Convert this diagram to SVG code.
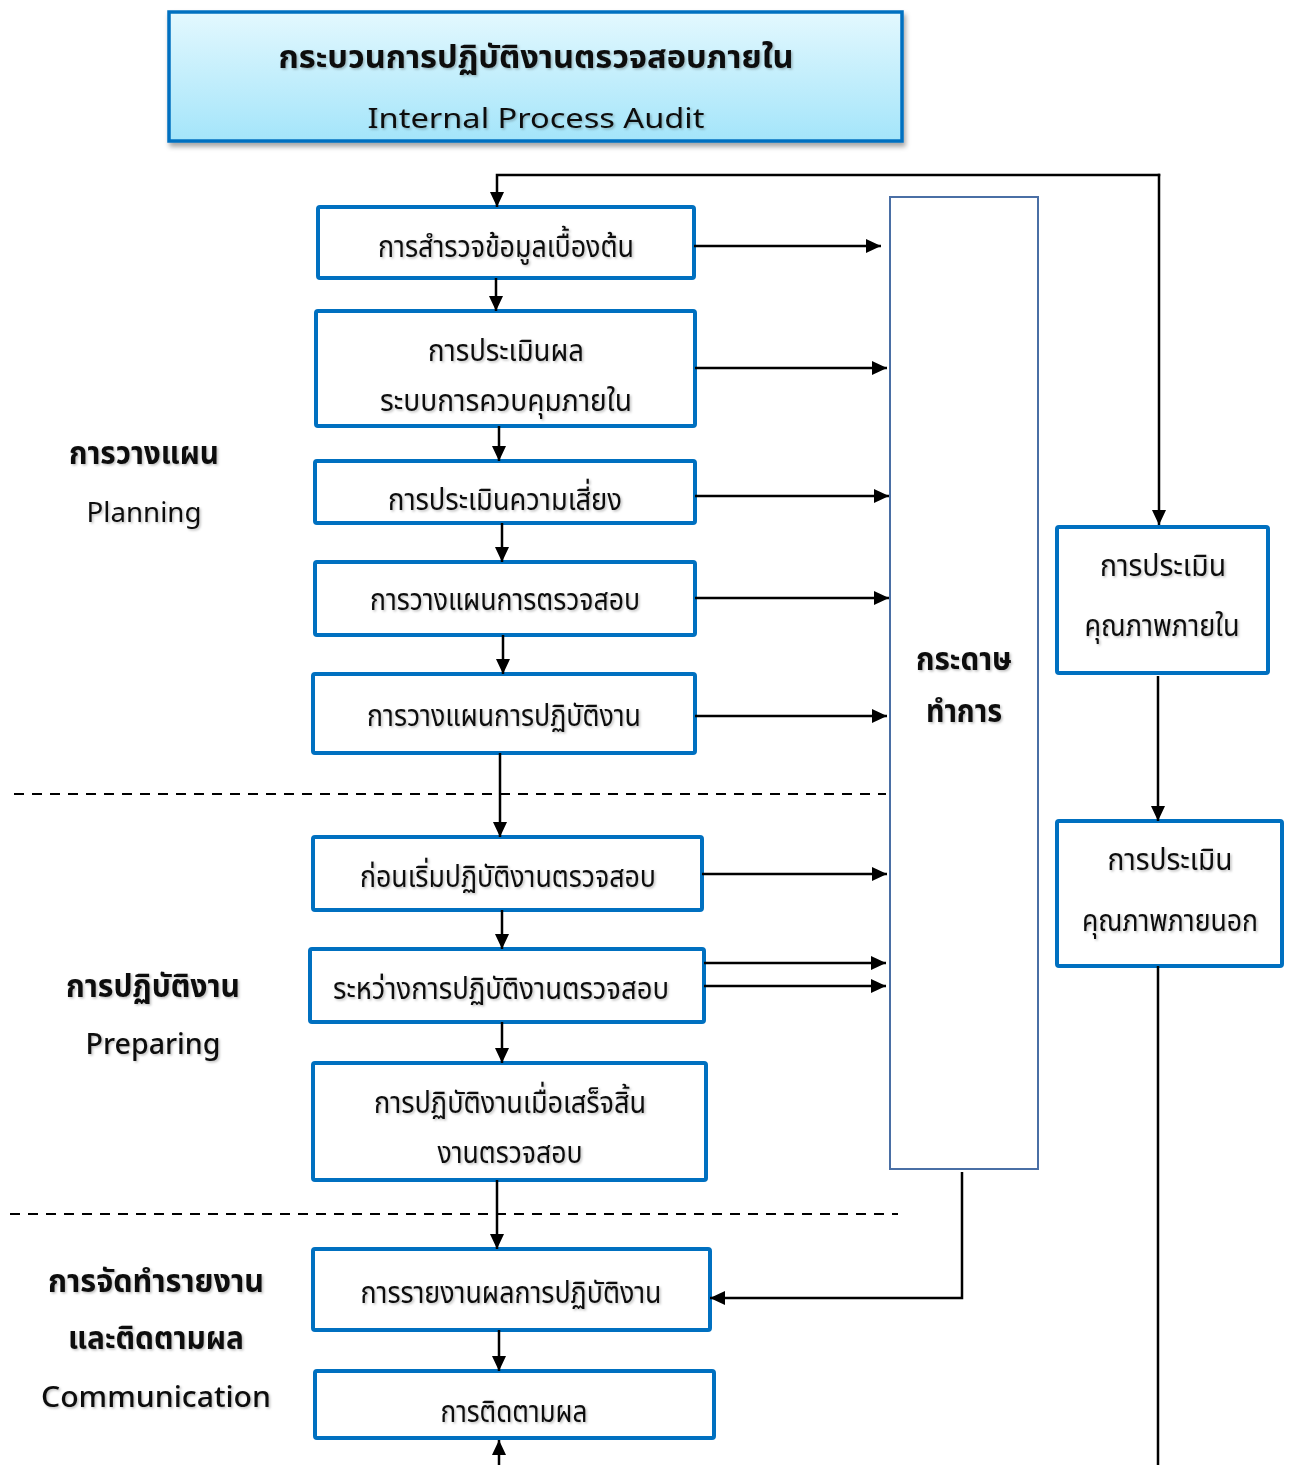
<svg xmlns="http://www.w3.org/2000/svg" width="1289" height="1465" viewBox="0 0 1289 1465">
<defs>
<linearGradient id="tg" x1="0" y1="0" x2="0" y2="1">
<stop offset="0" stop-color="#E3F8FE"/>
<stop offset="1" stop-color="#A4E5FA"/>
</linearGradient>
<filter id="bs" x="-5%" y="-10%" width="110%" height="130%">
<feDropShadow dx="2" dy="4" stdDeviation="2.5" flood-color="#000" flood-opacity="0.35"/>
</filter>
<filter id="ts" x="-5%" y="-20%" width="110%" height="150%">
<feDropShadow dx="1.5" dy="1.5" stdDeviation="1" flood-color="#000" flood-opacity="0.25"/>
</filter>
<marker id="ah" markerUnits="userSpaceOnUse" markerWidth="16" markerHeight="14" refX="15" refY="7" orient="auto">
<path d="M0,0 L15,7 L0,14 Z" fill="#000"/>
</marker>
</defs>
<style>
.box{fill:#fff;stroke:#0070C0;stroke-width:4}
.t{font-family:"Noto Sans Thai","Noto Sans","Liberation Sans",sans-serif;font-size:31px;fill:#111;text-anchor:middle;filter:url(#ts)}
.b{font-weight:bold}
.e{font-family:"Noto Sans","Liberation Sans",sans-serif;font-size:28px;fill:#111;text-anchor:middle;filter:url(#ts)}
.c{fill:none;stroke:#000;stroke-width:2.5}
.a{marker-end:url(#ah)}
.d{fill:none;stroke:#000;stroke-width:2;stroke-dasharray:10 8}
</style>
<g id="title">
<rect x="169" y="12" width="733" height="129" fill="url(#tg)" stroke="#0070C0" stroke-width="3.5" filter="url(#bs)"/>
<text class="t b" x="536" y="68" font-size="35" textLength="515" lengthAdjust="spacingAndGlyphs">กระบวนการปฏิบัติงานตรวจสอบภายใน</text>
<text class="e" x="536" y="128" font-size="29" textLength="337" lengthAdjust="spacingAndGlyphs">Internal Process Audit</text>
</g>
<g id="label-planning">
<text class="t b" x="144" y="464" font-size="33" textLength="150" lengthAdjust="spacingAndGlyphs">การวางแผน</text>
<text class="e" x="144" y="522" textLength="115" lengthAdjust="spacingAndGlyphs">Planning</text>
</g>
<g id="label-preparing">
<text class="t b" x="153" y="997" font-size="33" textLength="174" lengthAdjust="spacingAndGlyphs">การปฏิบัติงาน</text>
<text class="e" x="153" y="1054" font-weight="500" textLength="135" lengthAdjust="spacingAndGlyphs">Preparing</text>
</g>
<g id="label-communication">
<text class="t b" x="156" y="1292" font-size="33" textLength="216" lengthAdjust="spacingAndGlyphs">การจัดทำรายงาน</text>
<text class="t b" x="156" y="1349" font-size="33" textLength="176" lengthAdjust="spacingAndGlyphs">และติดตามผล</text>
<text class="e" x="156" y="1407" font-weight="500" textLength="230" lengthAdjust="spacingAndGlyphs">Communication</text>
</g>
<g id="n1">
<rect class="box" x="318" y="207" width="376" height="71" rx="2"/>
<text class="t" x="506" y="257" textLength="256" lengthAdjust="spacingAndGlyphs">การสำรวจข้อมูลเบื้องต้น</text>
</g>
<g id="n2">
<rect class="box" x="316" y="311" width="379" height="115" rx="2"/>
<text class="t" x="506" y="361" textLength="156" lengthAdjust="spacingAndGlyphs">การประเมินผล</text>
<text class="t" x="506" y="411" textLength="252" lengthAdjust="spacingAndGlyphs">ระบบการควบคุมภายใน</text>
</g>
<g id="n3">
<rect class="box" x="315" y="461" width="380" height="62" rx="2"/>
<text class="t" x="505" y="510" textLength="234" lengthAdjust="spacingAndGlyphs">การประเมินความเสี่ยง</text>
</g>
<g id="n4">
<rect class="box" x="315" y="562" width="380" height="73" rx="2"/>
<text class="t" x="505" y="610" textLength="270" lengthAdjust="spacingAndGlyphs">การวางแผนการตรวจสอบ</text>
</g>
<g id="n5">
<rect class="box" x="313" y="674" width="382" height="79" rx="2"/>
<text class="t" x="504" y="726" textLength="274" lengthAdjust="spacingAndGlyphs">การวางแผนการปฏิบัติงาน</text>
</g>
<g id="n6">
<rect class="box" x="313" y="837" width="389" height="73" rx="2"/>
<text class="t" x="508" y="887" textLength="296" lengthAdjust="spacingAndGlyphs">ก่อนเริ่มปฏิบัติงานตรวจสอบ</text>
</g>
<g id="n7">
<rect class="box" x="310" y="949" width="394" height="73" rx="2"/>
<text class="t" x="501" y="999" textLength="336" lengthAdjust="spacingAndGlyphs">ระหว่างการปฏิบัติงานตรวจสอบ</text>
</g>
<g id="n8">
<rect class="box" x="313" y="1063" width="393" height="117" rx="2"/>
<text class="t" x="510" y="1113" textLength="272" lengthAdjust="spacingAndGlyphs">การปฏิบัติงานเมื่อเสร็จสิ้น</text>
<text class="t" x="510" y="1163" textLength="145" lengthAdjust="spacingAndGlyphs">งานตรวจสอบ</text>
</g>
<g id="n9">
<rect class="box" x="313" y="1249" width="397" height="81" rx="2"/>
<text class="t" x="511" y="1303" textLength="301" lengthAdjust="spacingAndGlyphs">การรายงานผลการปฏิบัติงาน</text>
</g>
<g id="n10">
<rect class="box" x="315" y="1371" width="399" height="67" rx="2"/>
<text class="t" x="514" y="1422" textLength="147" lengthAdjust="spacingAndGlyphs">การติดตามผล</text>
</g>
<g id="working-paper">
<rect x="890" y="197" width="148" height="972" fill="#fff" stroke="#4A6FA5" stroke-width="2"/>
<text class="t b" x="964" y="670" font-size="32" textLength="96" lengthAdjust="spacingAndGlyphs">กระดาษ</text>
<text class="t b" x="964" y="722" font-size="32" textLength="76" lengthAdjust="spacingAndGlyphs">ทำการ</text>
</g>
<g id="qa-internal">
<rect class="box" x="1057" y="527" width="211" height="146" rx="2"/>
<text class="t" x="1163" y="576" textLength="126" lengthAdjust="spacingAndGlyphs">การประเมิน</text>
<text class="t" x="1162" y="636" textLength="155" lengthAdjust="spacingAndGlyphs">คุณภาพภายใน</text>
</g>
<g id="qa-external">
<rect class="box" x="1057" y="821" width="225" height="145" rx="2"/>
<text class="t" x="1170" y="870" textLength="125" lengthAdjust="spacingAndGlyphs">การประเมิน</text>
<text class="t" x="1170" y="931" textLength="176" lengthAdjust="spacingAndGlyphs">คุณภาพภายนอก</text>
</g>
<g id="connectors">
<line class="d" x1="14" y1="794" x2="886" y2="794"/>
<line class="d" x1="10" y1="1214" x2="898" y2="1214"/>
<path class="c a" d="M1160.25,175 H497 V207"/>
<path class="c a" d="M1159,173.75 V525"/>
<path class="c a" d="M1158,676 V821"/>
<path class="c" d="M1158,966 V1465"/>
<path class="c a" d="M499,1465 V1440"/>
<path class="c a" d="M496,278 V311"/>
<path class="c a" d="M499,426 V461"/>
<path class="c a" d="M502,523 V562"/>
<path class="c a" d="M503,635 V674"/>
<path class="c a" d="M500,753 V837"/>
<path class="c a" d="M502,910 V949"/>
<path class="c a" d="M502,1022 V1063"/>
<path class="c a" d="M497,1180 V1249"/>
<path class="c a" d="M499,1330 V1371"/>
<path class="c a" d="M694,246 H881"/>
<path class="c a" d="M695,368 H887"/>
<path class="c a" d="M695,496 H889"/>
<path class="c a" d="M695,598 H889"/>
<path class="c a" d="M695,716 H887"/>
<path class="c a" d="M702,874 H887"/>
<path class="c a" d="M704,963 H886"/>
<path class="c a" d="M704,986 H886"/>
<path class="c a" d="M962,1172 V1298 H710"/>
</g>
</svg>
